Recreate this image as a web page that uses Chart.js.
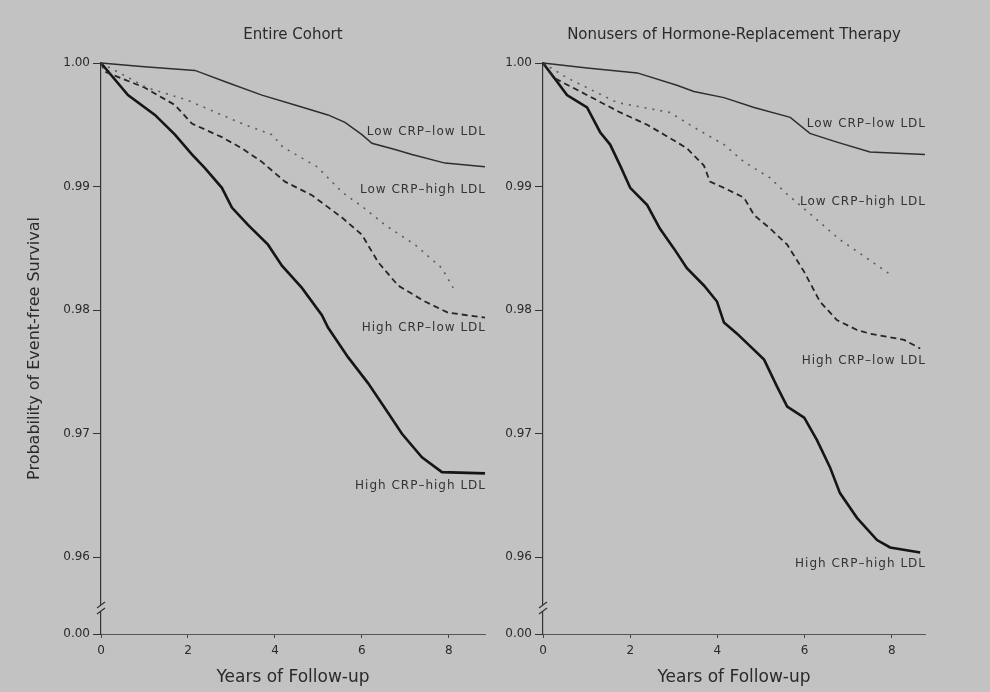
<!DOCTYPE html>
<html>
<head>
<meta charset="utf-8">
<script src="https://cdn.jsdelivr.net/npm/chart.js@4.4.1/dist/chart.umd.min.js"></script>
<style>
  html, body { margin: 0; padding: 0; background: #c2c2c2; }
  #wrap { position: relative; width: 990px; height: 692px; }
  .panel { position: absolute; top: 0; width: 495px; height: 692px; }
</style>
</head>
<body>
<div id="wrap">
  <div class="panel" style="left:0"><canvas id="cohortChart" width="495" height="692"></canvas></div>
  <div class="panel" style="left:495px"><canvas id="nonusersChart" width="495" height="692"></canvas></div>
</div>
<script>
// Group names, in the order used by every series list below
const groupNames = ['Low CRP\u2013low LDL', 'Low CRP\u2013high LDL', 'High CRP\u2013low LDL', 'High CRP\u2013high LDL'];

// Axis ticks (0.9538 stands in for the broken "0.00" tick)
const yTicks = [0.9538, 0.96, 0.97, 0.98, 0.99, 1.00];
const xTicks = [0, 2, 4, 6, 8];
const BREAK_AT = 0.9559;

// Entire cohort - years of follow-up and event-free survival
const cohortLowLowYears  = [0, 1.0, 2.16, 2.92, 3.70, 4.46, 5.22, 5.61, 6.00, 6.23, 6.76, 7.15, 7.91, 8.83];
const cohortLowLowSurv   = [1.0, .9997, .9994, .9984, .9974, .9966, .9958, .9952, .9942, .9935, .9930, .9926, .9919, .9916];
const cohortLowHighYears = [0, 1.06, 1.98, 3.24, 3.93, 4.18, 4.97, 5.56, 6.0, 6.53, 7.22, 7.84, 8.1];
const cohortLowHighSurv  = [1.0, .9980, .9970, .9951, .9942, .9932, .9916, .9895, .9884, .9869, .9853, .9834, .9818];
const cohortHighLowYears = [0, 0.09, 1.01, 1.70, 2.09, 2.78, 3.24, 3.70, 4.23, 4.85, 5.54, 6.00, 6.37, 6.83, 7.45, 7.98, 8.83];
const cohortHighLowSurv  = [1.0, .9993, .9980, .9966, .9951, .9940, .9931, .9920, .9904, .9893, .9875, .9861, .9839, .9820, .9807, .9798, .9794];
const cohortHighHighYears = [0, 0.62, 1.24, 1.70, 2.09, 2.39, 2.78, 3.01, 3.38, 3.84, 4.16, 4.62, 5.08, 5.22, 5.68, 6.14, 6.60, 6.92, 7.38, 7.84, 8.83];
const cohortHighHighSurv  = [1.0, .9974, .9958, .9942, .9926, .9915, .9899, .9883, .9869, .9853, .9836, .9818, .9796, .9786, .9762, .9741, .9717, .9700, .9681, .9669, .9668];
const cohortLabelAt = [.9944, .9897, .9786, .9658];

// Nonusers of hormone-replacement therapy
const nonusersLowLowYears  = [0, 1.01, 2.16, 3.07, 3.46, 4.15, 4.84, 5.67, 6.12, 6.74, 7.50, 8.12, 8.76];
const nonusersLowLowSurv   = [1.0, .9996, .9992, .9982, .9977, .9972, .9964, .9956, .9943, .9936, .9928, .9927, .9926];
const nonusersLowHighYears = [0, 0.55, 1.70, 2.91, 3.46, 4.15, 4.61, 5.21, 5.53, 6.22, 6.81, 7.43, 8.00];
const nonusersLowHighSurv  = [1.0, .9988, .9968, .9960, .9948, .9934, .9920, .9907, .9896, .9875, .9857, .9842, .9828];
const nonusersHighLowYears = [0, 0.25, 0.85, 1.77, 2.39, 2.78, 3.30, 3.69, 3.83, 4.15, 4.61, 4.84, 5.21, 5.60, 5.99, 6.35, 6.74, 7.20, 7.50, 8.28, 8.65];
const nonusersHighLowSurv  = [1.0, .9988, .9977, .9960, .9950, .9942, .9931, .9917, .9904, .9899, .9891, .9877, .9866, .9853, .9831, .9807, .9792, .9784, .9781, .9776, .9769];
const nonusersHighHighYears = [0, 0.32, 0.55, 1.01, 1.31, 1.54, 1.77, 2.00, 2.39, 2.68, 3.00, 3.30, 3.69, 3.99, 4.15, 4.45, 5.07, 5.37, 5.60, 5.99, 6.28, 6.58, 6.81, 7.20, 7.66, 7.96, 8.65];
const nonusersHighHighSurv  = [1.0, .9985, .9974, .9964, .9944, .9934, .9917, .9899, .9885, .9866, .9850, .9834, .9820, .9807, .9790, .9781, .9760, .9738, .9722, .9713, .9695, .9673, .9652, .9632, .9614, .9608, .9604];
const nonusersLabelAt = [.9951, .9888, .9759, .9595];

const BG = '#c2c2c2';
const INK = '#2a2a2a';

const lineStyles = [
    { color: '#2e2e2e', width: 1.5, dash: [] },
    { color: '#5c5c5c', width: 1.6, dash: [2, 6] },
    { color: '#262626', width: 1.8, dash: [6, 4] },
    { color: '#151515', width: 2.6, dash: [] }
];

Chart.defaults.font.family = '"DejaVu Sans", sans-serif';
Chart.defaults.color = INK;

// Curve labels at the right end of each panel
const curveLabels = {
    id: 'curveLabels',
    afterDatasetsDraw(chart, args, opts) {
        const { ctx, scales: { x, y } } = chart;
        ctx.save();
        ctx.font = '12px "DejaVu Sans"';
        ctx.fillStyle = '#333';
        ctx.textAlign = 'right';
        ctx.textBaseline = 'middle';
        if ('letterSpacing' in ctx) ctx.letterSpacing = '1px';
        opts.at.forEach((v, i) => {
            ctx.fillText(groupNames[i], x.getPixelForValue(opts.xEnd) + 1, y.getPixelForValue(v));
        });
        ctx.restore();
    }
};

// The little "//" break on the y axis
const axisBreak = {
    id: 'axisBreak',
    afterDraw(chart) {
        const { ctx, chartArea, scales: { y } } = chart;
        const px = chartArea.left, py = y.getPixelForValue(BREAK_AT);
        ctx.save();
        ctx.fillStyle = BG;
        ctx.fillRect(px - 2, py - 3, 4, 6);
        ctx.strokeStyle = '#333';
        ctx.lineWidth = 1.2;
        [-3, 3].forEach(d => {
            ctx.beginPath();
            ctx.moveTo(px - 4, py + d + 3);
            ctx.lineTo(px + 4, py + d - 3);
            ctx.stroke();
        });
        ctx.restore();
    }
};

function makeChart(canvasId, panel) {
    const datasets = panel.series.map((s, i) => ({
        label: groupNames[i],
        data: s.years.map((t, k) => ({ x: t, y: s.surv[k] })),
        borderColor: lineStyles[i].color,
        borderWidth: lineStyles[i].width,
        borderDash: lineStyles[i].dash,
        pointRadius: 0,
        tension: 0,
        fill: false,
        clip: false
    }));

    return new Chart(document.getElementById(canvasId), {
        type: 'line',
        data: { datasets },
        plugins: [curveLabels, axisBreak],
        options: {
            responsive: false,
            animation: false,
            devicePixelRatio: 1,
            layout: { padding: { left: 0, right: panel.padRight, top: 0, bottom: 0 } },
            plugins: {
                legend: { display: false },
                tooltip: { enabled: false },
                title: {
                    display: true,
                    text: panel.title,
                    fullSize: false,
                    color: INK,
                    font: { size: 15, weight: 'normal' },
                    padding: { top: 26, bottom: 19 }
                },
                curveLabels: { at: panel.labelAt, xEnd: panel.xMax }
            },
            scales: {
                x: {
                    type: 'linear',
                    min: 0,
                    max: panel.xMax,
                    afterBuildTicks: sc => { sc.ticks = xTicks.map(v => ({ value: v })); },
                    afterFit: sc => { sc.height = 58; },
                    grid: { display: true, drawOnChartArea: false, drawTicks: true, tickLength: 4, color: '#444' },
                    border: { display: true, color: '#555', width: 1 },
                    ticks: { padding: 6, color: INK, font: { size: 12 } },
                    title: {
                        display: true,
                        text: 'Years of Follow-up',
                        color: INK,
                        font: { size: 17 },
                        padding: { top: 0, bottom: 4 }
                    }
                },
                y: {
                    min: yTicks[0],
                    max: 1.0,
                    afterBuildTicks: sc => { sc.ticks = yTicks.map(v => ({ value: v })); },
                    afterFit: sc => { sc.width = panel.axisWidth; },
                    grid: { display: true, drawOnChartArea: false, drawTicks: true, tickLength: 8, color: '#333' },
                    border: { display: true, color: '#333', width: 1.2 },
                    ticks: {
                        padding: 3,
                        color: INK,
                        font: { size: 12 },
                        callback: v => (v === yTicks[0] ? '0.00' : v.toFixed(2))
                    },
                    title: {
                        display: panel.showYTitle,
                        text: 'Probability of Event-free Survival',
                        color: INK,
                        font: { size: 16 },
                        padding: { top: 25, bottom: 0 }
                    }
                }
            }
        }
    });
}

makeChart('cohortChart', {
    title: 'Entire Cohort',
    xMax: 8.83,
    padRight: 10,
    axisWidth: 101,
    showYTitle: true,
    labelAt: cohortLabelAt,
    series: [
        { years: cohortLowLowYears, surv: cohortLowLowSurv },
        { years: cohortLowHighYears, surv: cohortLowHighSurv },
        { years: cohortHighLowYears, surv: cohortHighLowSurv },
        { years: cohortHighHighYears, surv: cohortHighHighSurv }
    ]
});

makeChart('nonusersChart', {
    title: 'Nonusers of Hormone-Replacement Therapy',
    xMax: 8.76,
    padRight: 65,
    axisWidth: 48,
    showYTitle: false,
    labelAt: nonusersLabelAt,
    series: [
        { years: nonusersLowLowYears, surv: nonusersLowLowSurv },
        { years: nonusersLowHighYears, surv: nonusersLowHighSurv },
        { years: nonusersHighLowYears, surv: nonusersHighLowSurv },
        { years: nonusersHighHighYears, surv: nonusersHighHighSurv }
    ]
});
</script>
</body>
</html>
